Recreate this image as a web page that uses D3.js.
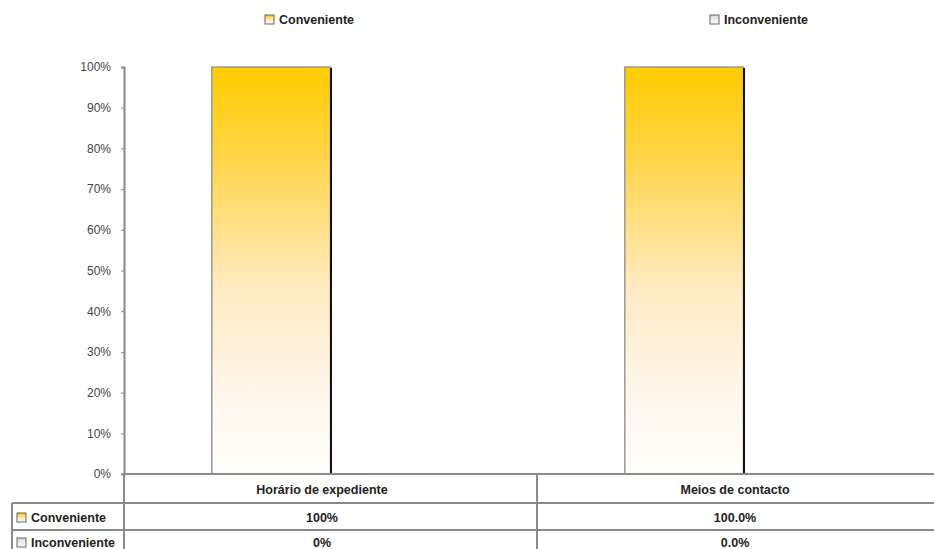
<!DOCTYPE html>
<html>
<head>
<meta charset="utf-8">
<script src="https://cdn.jsdelivr.net/npm/d3@7"></script>
<style>
  html, body { margin: 0; padding: 0; background: #fff; }
  svg { display: block; font-family: "Liberation Sans", Arial, sans-serif; }
</style>
</head>
<body>
<svg id="chart" width="934" height="549"></svg>
<script>
// Survey answers per aspect (percent)
const categories = ["Horário de expediente", "Meios de contacto"];
const seriesNames = ["Conveniente", "Inconveniente"];
const conveniente = [100, 100];
const inconveniente = [0, 0];
const convenienteLabels = ["100%", "100.0%"];
const inconvenienteLabels = ["0%", "0.0%"];
const yTicks = [0, 10, 20, 30, 40, 50, 60, 70, 80, 90, 100];

const svg = d3.select("#chart");
const W = 934;

// Plot geometry
const plotLeft = 124, plotRight = 950, plotTop = 67, plotBottom = 474;
const tableLeft = 12, row1 = 503, row2 = 530, tableBottom = 560;

const defs = svg.append("defs");
const grad = defs.append("linearGradient")
  .attr("id", "gold").attr("x1", 0).attr("y1", 0).attr("x2", 0).attr("y2", 1);
[[0, "#FFCC00"], [0.22, "#FFD447"], [0.55, "#FFEBC4"], [0.8, "#FFF7EC"], [1, "#FFFDFB"]]
  .forEach(([o, c]) => grad.append("stop").attr("offset", o).attr("stop-color", c));
const grad2 = defs.append("linearGradient")
  .attr("id", "grey").attr("x1", 0).attr("y1", 0).attr("x2", 0).attr("y2", 1);
[[0, "#d8d8d8"], [1, "#ffffff"]]
  .forEach(([o, c]) => grad2.append("stop").attr("offset", o).attr("stop-color", c));
const legendFill = { "Conveniente": "url(#gold)", "Inconveniente": "url(#grey)" };

const x0 = d3.scaleBand().domain(categories).range([plotLeft, plotRight]).padding(0);
const x1 = d3.scaleBand().domain(seriesNames).range([0, x0.bandwidth()])
  .paddingInner(0).paddingOuter(0.74);
const y = d3.scaleLinear().domain([0, 100]).range([plotBottom, plotTop]);

// Y axis
const yAxis = d3.axisLeft(y).tickValues(yTicks).tickFormat(d => d + "%").tickSize(3).tickPadding(10);
const ya = svg.append("g").attr("transform", `translate(${plotLeft},0)`).call(yAxis);
ya.select(".domain").attr("stroke", "#888").attr("stroke-width", 2);
ya.selectAll(".tick line").attr("stroke", "#888");
ya.selectAll(".tick text").attr("fill", "#444").attr("font-size", 12)
  .attr("font-family", "'Liberation Sans', Arial, sans-serif");

// Bars
const data = categories.map((c, i) => ({ cat: c, values: [
  { s: "Conveniente", v: conveniente[i] },
  { s: "Inconveniente", v: inconveniente[i] } ] }));

const groups = svg.append("g").selectAll("g").data(data).join("g")
  .attr("transform", d => `translate(${x0(d.cat)},0)`);
groups.selectAll("rect").data(d => d.values.filter(v => v.v > 0)).join("rect")
  .attr("x", d => x1(d.s))
  .attr("y", d => y(d.v))
  .attr("width", x1.bandwidth())
  .attr("height", d => y(0) - y(d.v))
  .attr("fill", d => legendFill[d.s])
  .attr("stroke", "#999").attr("stroke-width", 1.5);
// dark shadow edge on the right of each bar
groups.selectAll("line.edge").data(d => d.values.filter(v => v.v > 0)).join("line")
  .attr("class", "edge")
  .attr("x1", d => x1(d.s) + x1.bandwidth() + 0.5)
  .attr("x2", d => x1(d.s) + x1.bandwidth() + 0.5)
  .attr("y1", d => y(d.v) + 1)
  .attr("y2", y(0))
  .attr("stroke", "#111").attr("stroke-width", 2);

// Data table under the plot
const gridColor = "#8a8a8a";
const tbl = svg.append("g");
const hline = (x1p, x2p, yp) => tbl.append("line").attr("x1", x1p).attr("x2", x2p)
  .attr("y1", yp).attr("y2", yp).attr("stroke", gridColor).attr("stroke-width", 2);
const vline = (xp, y1p, y2p) => tbl.append("line").attr("x1", xp).attr("x2", xp)
  .attr("y1", y1p).attr("y2", y2p).attr("stroke", gridColor).attr("stroke-width", 2);
hline(plotLeft - 1, W, plotBottom);
hline(tableLeft, W, row1);
hline(tableLeft, W, row2);
vline(tableLeft, row1, tableBottom);
vline(plotLeft, plotBottom, tableBottom);
categories.forEach((c, i) => { if (i > 0) vline(x0(c), plotBottom, tableBottom); });

const cellText = (xp, yp, t, anchor) => tbl.append("text")
  .attr("x", xp).attr("y", yp).attr("text-anchor", anchor || "middle")
  .attr("font-size", 12.5).attr("font-weight", "bold").attr("fill", "#222").text(t);

categories.forEach((c, i) => {
  const cx = x0(c) + x0.bandwidth() / 2 - 8.5;
  cellText(cx, 494, c);
  cellText(cx, 522, convenienteLabels[i]);
  cellText(cx, 547, inconvenienteLabels[i]);
});

// Row legend keys
const rowKeys = [{ s: "Conveniente", yk: 513, ty: 522 }, { s: "Inconveniente", yk: 538, ty: 547 }];
rowKeys.forEach(r => {
  tbl.append("rect").attr("x", 17).attr("y", r.yk).attr("width", 9).attr("height", 9)
    .attr("fill", legendFill[r.s]).attr("stroke", "#666").attr("stroke-width", 1);
  cellText(31, r.ty, r.s, "start");
});

// Top legend
const topLegend = [{ s: "Conveniente", x: 265 }, { s: "Inconveniente", x: 710 }];
topLegend.forEach(l => {
  svg.append("rect").attr("x", l.x).attr("y", 15).attr("width", 9).attr("height", 9)
    .attr("fill", legendFill[l.s]).attr("stroke", "#666").attr("stroke-width", 1);
  svg.append("text").attr("x", l.x + 14).attr("y", 24).attr("font-size", 12.5)
    .attr("font-weight", "bold").attr("fill", "#222").text(l.s);
});
</script>
</body>
</html>
